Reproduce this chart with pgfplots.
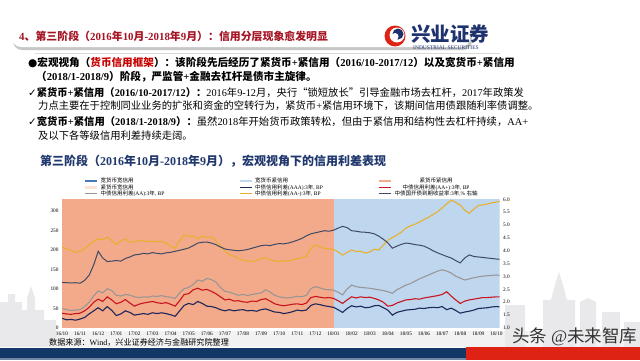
\documentclass[border=0pt]{standalone}
\usepackage{fontspec}
\usepackage{pgfplots}
\usepackage{pgfplotstable}
\pgfplotsset{compat=1.18}
\setmainfont{Liberation Serif}
\newfontfamily\cjkfont{Noto Sans CJK SC}
\newfontfamily\symfont{DejaVu Sans}
\newcommand\latinfont{\rmfamily}
% --- automatic font switching for CJK text ---
\XeTeXinterchartokenstate=1
\newXeTeXintercharclass\CJKclass
\newXeTeXintercharclass\SYMclass
\count255="3000
\loop\XeTeXcharclass\count255=\CJKclass\ifnum\count255<"303F\advance\count255 by 1\repeat
\count255="4E00
\loop\XeTeXcharclass\count255=\CJKclass\ifnum\count255<"9FFF\advance\count255 by 1\repeat
\count255="FF00
\loop\XeTeXcharclass\count255=\CJKclass\ifnum\count255<"FFEF\advance\count255 by 1\repeat
\XeTeXcharclass"201C=\CJKclass
\XeTeXcharclass"201D=\CJKclass
\XeTeXcharclass"2713=\SYMclass
\XeTeXcharclass"25CF=\SYMclass
\XeTeXinterchartoks 0 \CJKclass={\cjkfont}
\XeTeXinterchartoks 4095 \CJKclass={\cjkfont}
\XeTeXinterchartoks \SYMclass \CJKclass={\cjkfont}
\XeTeXinterchartoks \CJKclass 0={\latinfont}
\XeTeXinterchartoks 4095 0={\latinfont}
\XeTeXinterchartoks \SYMclass 0={\latinfont}
\XeTeXinterchartoks 0 \SYMclass={\symfont}
\XeTeXinterchartoks 4095 \SYMclass={\symfont}
\XeTeXinterchartoks \CJKclass \SYMclass={\symfont}

\definecolor{salmon}{RGB}{242,170,138}
\definecolor{lblue}{RGB}{190,215,238}
\definecolor{mblue}{RGB}{70,120,185}
\definecolor{lpink}{RGB}{251,228,214}
\definecolor{cAAA}{RGB}{30,38,90}
\definecolor{cAAp}{RGB}{200,20,30}
\definecolor{cAA}{RGB}{155,150,150}
\definecolor{cAAm}{RGB}{232,176,46}
\definecolor{cCDB}{RGB}{62,74,100}
\definecolor{titlered}{RGB}{165,20,35}
\definecolor{hred}{RGB}{200,0,0}
\definecolor{subblue}{RGB}{32,56,110}
\definecolor{barblue}{RGB}{18,56,104}
\definecolor{barred}{RGB}{222,34,20}
\definecolor{logoblue}{RGB}{30,50,110}
\definecolor{skyline}{RGB}{233,233,235}

\pgfplotstableread{
m aaa aap aa aam cdb
0 25 38 50 208 2.77
0.25 21 36 47 203 2.76
0.5 22 35 45 199 2.75
0.75 20 37 46 194 2.76
1.0 23 38 47 197 2.74
1.25 27 44 55 203 2.85
1.5 36 53 66 214 3.05
1.75 44 66 82 222 3.45
2.0 52 74 95 229 3.98
2.25 44 68 90 226 3.72
2.5 55 80 101 233 3.58
2.75 45 72 96 224 3.60
3.0 32 62 84 214 3.62
3.25 36 66 82 223 3.60
3.5 44 73 86 228 3.70
3.75 40 64 84 220 3.76
4.0 33 56 80 221 3.84
4.25 35 61 78 224 3.86
4.5 37 64 80 223 3.90
4.75 35 66 79 222 3.88
5.0 39 68 82 223 3.93
5.25 37 65 81 221 3.90
5.5 39 63 83 222 3.88
5.75 37 65 80 218 3.92
6.0 34 61 79 210 3.94
6.25 30 56 76 204 3.98
6.5 44 70 90 224 4.02
6.75 58 86 101 238 4.06
7.0 63 88 104 234 4.11
7.25 60 98 112 236 4.20
7.5 68 102 123 229 4.30
7.75 63 97 120 235 4.33
8.0 56 99 127 232 4.34
8.25 55 94 124 234 4.30
8.5 52 88 118 224 4.24
8.75 47 80 104 210 4.15
9.0 44 72 94 196 4.07
9.25 47 74 92 188 4.04
9.5 44 69 88 184 4.02
9.75 46 70 84 178 4.00
10.0 47 67 86 174 4.02
10.25 44 66 83 172 4.05
10.5 45 69 86 170 4.10
10.75 43 68 88 174 4.15
11.0 47 73 90 177 4.20
11.25 49 75 98 180 4.22
11.5 45 69 92 175 4.20
11.75 41 62 84 172 4.25
12.0 40 59 80 170 4.28
12.25 37 57 78 172 4.27
12.5 39 59 77 171 4.30
12.75 42 61 79 175 4.35
13.0 46 62 81 178 4.41
13.25 44 60 80 180 4.48
13.5 46 64 84 184 4.58
13.75 58 78 101 205 4.66
14.0 62 81 106 213 4.70
14.25 60 79 103 208 4.74
14.5 57 77 99 204 4.78
14.75 55 78 98 203 4.76
15.0 53 76 97 202 4.80
15.25 47 70 92 195 4.88
15.5 40 63 85 187 4.95
15.75 50 72 100 194 4.90
16.0 57 80 110 200 4.78
16.25 54 77 106 196 4.76
16.5 56 80 104 197 4.73
16.75 52 78 103 192 4.72
17.0 53 79 102 195 4.70
17.25 57 76 100 202 4.66
17.5 58 72 98 200 4.57
17.75 52 66 96 212 4.45
18.0 46 56 93 225 4.31
18.25 33 58 89 232 4.10
18.5 40 64 98 238 4.18
18.75 43 68 104 246 4.25
19.0 46 72 110 256 4.30
19.25 47 73 114 262 4.28
19.5 48 75 120 266 4.24
19.75 51 74 126 272 4.22
20.0 50 77 131 278 4.18
20.25 52 79 136 284 4.10
20.5 53 81 141 291 4.00
20.75 52 83 146 298 3.92
21.0 55 86 149 308 3.85
21.25 47 93 146 318 3.78
21.5 51 82 141 328 3.72
21.75 45 72 133 322 3.62
22.0 38 63 128 315 3.53
22.25 41 69 123 302 3.72
22.5 43 72 126 294 3.84
22.75 46 74 129 305 3.78
23.0 50 76 131 314 3.76
23.25 51 78 133 316 3.74
23.5 52 78 134 318 3.72
23.75 54 79 135 321 3.70
24.0 55 80 136 323 3.68
24.17 54 80 135 325 3.67
}\data

\begin{document}
\begin{tikzpicture}
\path[use as bounding box] (0,0) rectangle (640pt,360pt);
\fill[white] (0,0) rectangle (640pt,360pt);
\begin{scope}[x=1pt,y=-1pt,yshift=360pt]
% skyline watermark
\fill[skyline!60] (0,331) rectangle (640,347);
\fill[skyline] (0,347) -- (0,302) -- (8,302) -- (8,294) -- (15,294) -- (15,302) -- (22,302) -- (22,310) -- (27,310) -- (27,298) -- (31,286) -- (35,298) -- (35,310) -- (44,310) -- (44,320) -- (56,320) -- (56,347) -- cycle;
\fill[skyline] (505,347) rectangle (525,305);
\fill[skyline] (543,347) -- (543,300) -- (551,300) -- (555,285) -- (559,272) -- (563,285) -- (567,300) -- (575,300) -- (575,347) -- cycle;
\fill[skyline] (580,347) -- (580,302) -- (588,298) -- (596,302) -- (596,347) -- cycle;
\fill[skyline] (602,347) rectangle (620,312);
\fill[skyline] (624,347) rectangle (640,322);
% title bar
\fill[gray!45, rounded corners=9pt] (13,26) rectangle (472,50);
\fill[white, rounded corners=9pt] (12,23) rectangle (470,47);
\node[anchor=base west, font=\fontsize{10.9}{13}\selectfont\bfseries, text=titlered, inner sep=0pt] at (19,40.3) {4、第三阶段（2016年10月-2018年9月）：信用分层现象愈发明显};
% logo
\fill[barred] (395,36) circle (10.5);
\fill[white] (397,35) circle (7.5);
\fill[logoblue] (398,34) circle (5.5);
\fill[white] (395,36.5) circle (3.5);
\node[anchor=base west, font=\fontsize{19.5}{20}\selectfont\bfseries, text=logoblue, inner sep=0pt] at (411,41) {兴业证券};
\node[anchor=base west, font=\fontsize{5.5}{6}\selectfont, text=logoblue, inner sep=0pt] at (413,49) {INDUSTRIAL SECURITIES};
\draw[gray!30, line width=0.8pt] (35,53) -- (500,53);
% body text
\node[anchor=base west, font=\fontsize{10.6}{13}\selectfont\bfseries, inner sep=0pt] at (28,66) {●宏观视角（\textcolor{hred}{货币信用框架}）：该阶段先后经历了紧货币+紧信用（2016/10-2017/12）以及宽货币+紧信用};
\node[anchor=base west, font=\fontsize{10.6}{13}\selectfont\bfseries, inner sep=0pt] at (36,80) {（2018/1-2018/9）阶段，严监管+金融去杠杆是债市主旋律。};
\node[anchor=base west, font=\fontsize{10.3}{13}\selectfont, inner sep=0pt] at (28,96) {{\bfseries ✓紧货币+紧信用（2016/10-2017/12）：}2016年9-12月，央行“锁短放长”引导金融市场去杠杆，2017年政策发};
\node[anchor=base west, font=\fontsize{10.3}{13}\selectfont, inner sep=0pt] at (38,109) {力点主要在于控制同业业务的扩张和资金的空转行为，紧货币+紧信用环境下，该期间信用债跟随利率债调整。};
\node[anchor=base west, font=\fontsize{10.35}{13}\selectfont, inner sep=0pt] at (28,125) {{\bfseries ✓宽货币+紧信用（2018/1-2018/9）：}虽然2018年开始货币政策转松，但由于紧信用和结构性去杠杆持续，AA+};
\node[anchor=base west, font=\fontsize{10.3}{13}\selectfont, inner sep=0pt] at (38,139) {及以下各等级信用利差持续走阔。};
\node[anchor=base west, font=\fontsize{12}{14}\selectfont\bfseries, text=subblue, inner sep=0pt] at (40,165.5) {第三阶段（2016年10月-2018年9月），宏观视角下的信用利差表现};
% source
\node[anchor=base west, font=\fontsize{8.1}{9}\selectfont, inner sep=0pt] at (49,345) {数据来源：Wind，兴业证券经济与金融研究院整理};
% bottom bars
\fill[barblue] (0,347.5) rectangle (466,358);
\fill[barblue!60] (0,358) rectangle (466,360);
\fill[barred] (466,346.5) rectangle (640,360);
\node[anchor=base west, font=\fontsize{17.5}{18}\selectfont, text=black!80, inner sep=0pt] at (512,342) {头条 @未来智库};
\end{scope}

\begin{axis}[
  at={(62pt,32pt)}, anchor=south west,
  scale only axis, width=437.5pt, height=128.7pt,
  xmin=0, xmax=24.17, ymin=0, ymax=330,
  axis line style={draw=none},
  major tick length=0pt,
  xtick={0,...,24},
  xticklabels={16/10,16/11,16/12,17/01,17/02,17/03,17/04,17/05,17/06,17/07,17/08,17/09,17/10,17/11,17/12,18/01,18/02,18/03,18/04,18/05,18/06,18/07,18/08,18/09,18/10},
  ytick={0,50,100,150,200,250,300},
  ticklabel style={font=\fontsize{5.3}{6}\selectfont},
  /pgf/number format/assume math mode=true,
  legend columns=3,
  legend image code/.code={\draw[#1] (0pt,0pt) -- (12pt,0pt);},
  legend style={draw=none, fill=none, at={(0.043,1.181)}, anchor=north west,
    /tikz/column sep=2pt, row sep=1.2pt,
    nodes={inner sep=0pt, text height=4.3pt, text depth=1pt, font=\fontsize{5.5}{6}\selectfont}},
]
\addplot[fill=salmon, draw=none, forget plot] coordinates {(0,330) (15,330)} \closedcycle;
\addplot[fill=lblue, draw=none, forget plot] coordinates {(15,330) (24.17,330)} \closedcycle;
\addplot[cAA, line width=1.1pt, forget plot] table[x=m, y=aa] {\data};
\addplot[cAAm, line width=1.1pt, forget plot] table[x=m, y=aam] {\data};
\addplot[cAAp, line width=1.1pt, forget plot] table[x=m, y=aap] {\data};
\addplot[cAAA, line width=1.1pt, forget plot] table[x=m, y=aaa] {\data};
\addlegendimage{mblue, line width=2.5pt}
\addlegendentry{\makebox[136pt][l]{宽货币宽信用}}
\addlegendimage{lblue, line width=2.5pt}
\addlegendentry{\makebox[121pt][l]{宽货币紧信用}}
\addlegendimage{salmon, line width=2.5pt}
\addlegendentry{紧货币紧信用}
\addlegendimage{lpink, line width=2.5pt}
\addlegendentry{\makebox[136pt][l]{紧货币宽信用}}
\addlegendimage{cAAA, line width=1pt}
\addlegendentry{\makebox[121pt][l]{中债信用利差(AAA):3年, BP}}
\addlegendimage{cAAp, line width=1pt}
\addlegendentry{中债信用利差(AA+):3年, BP}
\addlegendimage{cAA, line width=1pt}
\addlegendentry{\makebox[136pt][l]{中债信用利差(AA):3年, BP}}
\addlegendimage{cAAm, line width=1pt}
\addlegendentry{\makebox[121pt][l]{中债信用利差(AA-):3年, BP}}
\addlegendimage{cCDB, line width=1pt}
\addlegendentry{中债国开债到期收益率:3年,\% 右轴}
\end{axis}

\begin{axis}[
  at={(62pt,32pt)}, anchor=south west,
  scale only axis, width=437.5pt, height=128.7pt,
  xmin=0, xmax=24.17, ymin=1, ymax=6,
  axis x line=none, axis y line*=right,
  axis line style={draw=none},
  major tick length=0pt,
  ytick={1,1.5,2,2.5,3,3.5,4,4.5,5,5.5,6},
  yticklabel style={/pgf/number format/.cd, fixed, fixed zerofill, precision=1},
  ticklabel style={font=\fontsize{5.3}{6}\selectfont},
  /pgf/number format/assume math mode=true,
]
\addplot[cCDB, line width=1pt] table[x=m, y=cdb] {\data};
\end{axis}
\end{tikzpicture}
\end{document}
